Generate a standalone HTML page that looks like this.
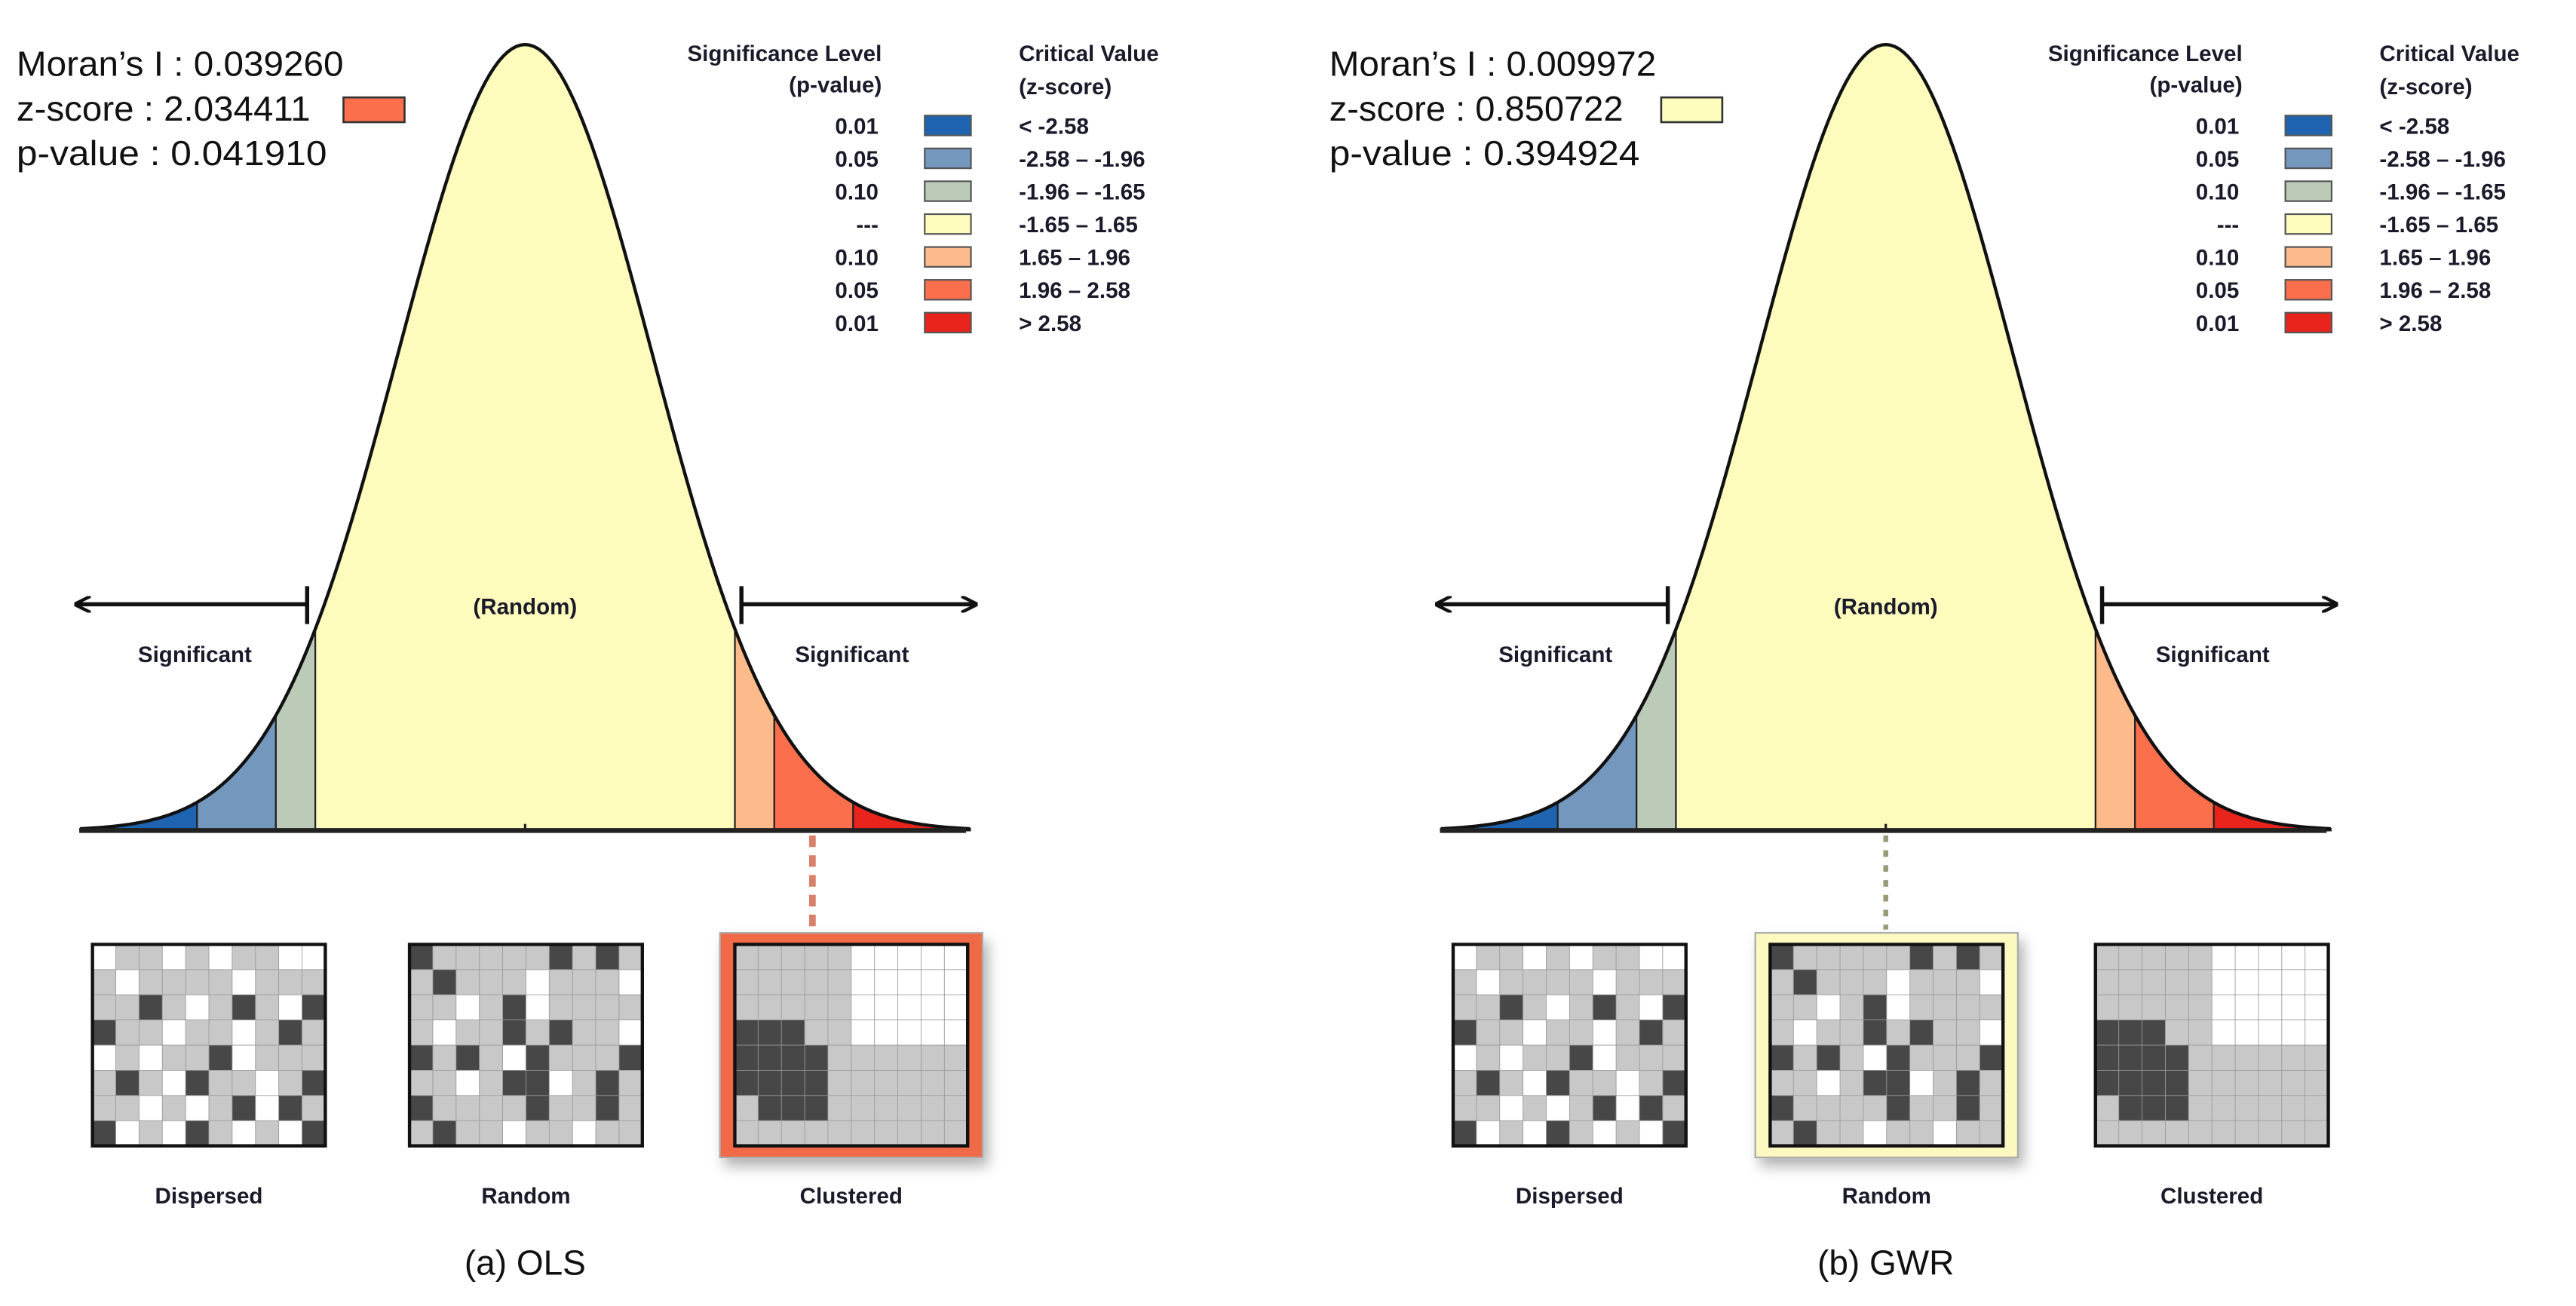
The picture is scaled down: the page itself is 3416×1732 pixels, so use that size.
<!DOCTYPE html>
<html><head><meta charset="utf-8">
<style>
html,body{margin:0;padding:0;background:#fff;}
svg{display:block;}
text{font-family:"Liberation Sans",sans-serif;}
.b{font-weight:bold;font-size:13.5px;fill:#1a1a2a;}
.m{font-size:21px;fill:#111;}
</style></head>
<body>
<svg id="fig" width="3416" height="1732" viewBox="0 0 1560 791" preserveAspectRatio="none" xmlns="http://www.w3.org/2000/svg"></svg>
<script>
const zBreaks = [-3.5, -2.58, -1.96, -1.65, 1.65, 1.96, 2.58, 3.5];
const bandColors = ["#1f64b0", "#7397bd", "#bccbb8", "#fdfcbd", "#fdba8a", "#fc6f4c", "#e8241c"];
const legendP = ["0.01", "0.05", "0.10", "---", "0.10", "0.05", "0.01"];
const legendZ = ["< -2.58", "-2.58 – -1.96", "-1.96 – -1.65", "-1.65 – 1.65", " 1.65 – 1.96", "1.96 – 2.58", "> 2.58"];
const panelNames = ["ols", "gwr"];
const panelTitles = ["(a) OLS", "(b) GWR"];
const moransI = ["0.039260", "0.009972"];
const zScores = ["2.034411", "0.850722"];
const pValues = ["0.041910", "0.394924"];
const zSwatch = ["#fc6f4c", "#fdfcbd"];
const highlightMap = [2, 1];
const mapLabels = ["Dispersed", "Random", "Clustered"];
const mapDispersed = ["0110101100","1011110111","1121012102","2110110121","0101120111","1210211012","1101012021","2010210102"];
const mapRandom = ["2111112121","1211101110","1101201111","1011212110","2121021112","1101220121","2111121121","1211011011"];
const mapClustered = ["1111100000","1111100000","1111100000","2221100000","2222111111","2222111111","1222111111","1111111111"];
const maps = [mapDispersed, mapRandom, mapClustered];

const NS = "http://www.w3.org/2000/svg";
const svg = document.getElementById("fig");
function mk(tag, attrs, parent, txt){
  const e = document.createElementNS(NS, tag);
  for (const k in attrs) e.setAttribute(k, attrs[k]);
  if (txt !== undefined) e.textContent = txt;
  (parent || svg).appendChild(e);
  return e;
}
const defs = mk("defs", {});
const mkr = mk("marker", {id:"ah", markerWidth:"10", markerHeight:"10", refX:"9", refY:"5", orient:"auto", markerUnits:"userSpaceOnUse"}, defs);
mk("path", {d:"M0,0 L10,5 L0,10", fill:"none", stroke:"#111", "stroke-width":"2"}, mkr);
const flt = mk("filter", {id:"sh", x:"-20%", y:"-20%", width:"150%", height:"150%"}, defs);
mk("feDropShadow", {dx:"3", dy:"5", stdDeviation:"4", "flood-color":"#000", "flood-opacity":"0.3"}, flt);

const CX = 318, BASE = 503, PEAK = 27, SIG = 77;
function xs(z, off){ return off + CX + z * SIG; }
function ys(z){ return BASE - (BASE - PEAK) * Math.exp(-z*z/2); }
const mapColors = ["#ffffff", "#c8c8c8", "#474747"];
const statX = [10, 805];
const swX = [208, 1006];

panelNames.forEach((pn, pi) => {
  const off = pi * 824;
  const g = mk("g", {});
  
  
  for (let b = 0; b < bandColors.length; b++) {
    const z0 = zBreaks[b], z1 = zBreaks[b+1];
    let d = "M" + xs(z0, off) + "," + BASE;
    for (let i = 0; i <= 40; i++) { const z = z0 + (z1 - z0) * i / 40; d += " L" + xs(z, off).toFixed(2) + "," + ys(z).toFixed(2); }
    d += " L" + xs(z1, off) + "," + BASE + " Z";
    const p = mk("path", {d:d, fill:bandColors[b], stroke:"#222", "stroke-width":"1"}, g);
    
    
  }
  let d = "";
  for (let i = 0; i <= 200; i++) { const z = -3.5 + 7 * i / 200; d += (i ? " L" : "M") + xs(z, off).toFixed(2) + "," + ys(z).toFixed(2); }
  const c = mk("path", {d:d, fill:"none", stroke:"#111", "stroke-width":"2"}, g);
  
  
  const bl = mk("line", {x1:off+48, y1:BASE, x2:off+585, y2:BASE, stroke:"#222", "stroke-width":"3"}, g);
  
  
  mk("line", {x1:off+CX, y1:BASE-4, x2:off+CX, y2:BASE, stroke:"#222", "stroke-width":"1.5"}, g);
  const la = mk("line", {x1:off+186, y1:366, x2:off+46, y2:366, stroke:"#111", "stroke-width":"2.5", "marker-end":"url(#ah)"}, g);
  
  
  mk("line", {x1:off+186, y1:355, x2:off+186, y2:378, stroke:"#111", "stroke-width":"2.5"}, g);
  const ra = mk("line", {x1:off+449, y1:366, x2:off+591, y2:366, stroke:"#111", "stroke-width":"2.5", "marker-end":"url(#ah)"}, g);
  
  
  mk("line", {x1:off+449, y1:355, x2:off+449, y2:378, stroke:"#111", "stroke-width":"2.5"}, g);
  const rt = mk("text", {x:off+CX, y:372, "text-anchor":"middle", class:"b"}, g, "(Random)");
  
  
  const s1 = mk("text", {x:off+118, y:401, "text-anchor":"middle", class:"b"}, g, "Significant");
  
  
  const s2 = mk("text", {x:off+516, y:401, "text-anchor":"middle", class:"b"}, g, "Significant");
  
  
  const st = [["Moran’s I : " + moransI[pi], 46, 198], ["z-score : " + zScores[pi], 73, 178], ["p-value :  " + pValues[pi], 100, 188]];
  st.forEach((s, si) => {
    const t = mk("text", {x:statX[pi], y:s[1], class:"m", textLength:s[2], lengthAdjust:"spacingAndGlyphs"}, g, s[0]);
    
    
  });
  const sw = mk("rect", {x:swX[pi], y:59, width:37, height:15, fill:zSwatch[pi], stroke:"#333", "stroke-width":"1.2"}, g);
  
  
  const lg = mk("g", {}, g);
  
  
  mk("text", {x:off+534, y:37, "text-anchor":"end", class:"b"}, lg, "Significance Level");
  mk("text", {x:off+534, y:56, "text-anchor":"end", class:"b"}, lg, "(p-value)");
  mk("text", {x:off+617, y:37, class:"b"}, lg, "Critical Value");
  mk("text", {x:off+617, y:57, class:"b"}, lg, "(z-score)");
  legendP.forEach((p, i) => {
    const y = 76 + i * 19.9;
    const e = mk("g", {}, lg);
    
    
    mk("text", {x:off+532, y:y+5, "text-anchor":"end", class:"b"}, e, p);
    mk("rect", {x:off+560, y:y-6, width:28, height:12, fill:bandColors[i], stroke:"#555", "stroke-width":"1"}, e);
    mk("text", {x:off+617, y:y+5, class:"b"}, e, legendZ[i]);
  });
  const hl = highlightMap[pi];
  const cx = hl === 2 ? off + 492 : off + 318;
  const conn = mk("line", {x1:cx, y1:506, x2:cx, y2:563,
    stroke: hl === 2 ? "#d8806a" : "#9a9a7a", "stroke-width": hl === 2 ? "4" : "3",
    "stroke-dasharray": hl === 2 ? "7,5" : "4,5"}, g);
  
  
  const mapX = [56, 248, 445];
  maps.forEach((m, mi) => {
    const x0 = off + mapX[mi];
    const y0 = 572, w = 141, h = 122;
    const mg = mk("g", {}, g);
    
    
    if (mi === hl) {
      mk("rect", {x:x0-9, y:y0-7, width:w+18, height:h+14, fill: pi === 0 ? "#f06a47" : "#fbf8c0", stroke:"#aaa", "stroke-width":"1", filter:"url(#sh)"}, mg);
    }
    const rows = m.length, cols = m[0].length;
    for (let r = 0; r < rows; r++) for (let k = 0; k < cols; k++) {
      mk("rect", {x:(x0 + k*w/cols).toFixed(2), y:(y0 + r*h/rows).toFixed(2), width:(w/cols+0.3).toFixed(2), height:(h/rows+0.3).toFixed(2), fill:mapColors[+m[r][k]], stroke:"#9a9a9a", "stroke-width":"0.4"}, mg);
    }
    mk("rect", {x:x0, y:y0, width:w, height:h, fill:"none", stroke:"#111", "stroke-width":"2"}, mg);
    const ml = mk("text", {x:x0 + w/2, y:729, "text-anchor":"middle", class:"b"}, g, mapLabels[mi]);
    
    
  });
  const tt = mk("text", {x:off+318, y:772, "text-anchor":"middle", class:"m", "font-size":"19"}, g, panelTitles[pi]);
  
  
});
</script>
</body></html>
